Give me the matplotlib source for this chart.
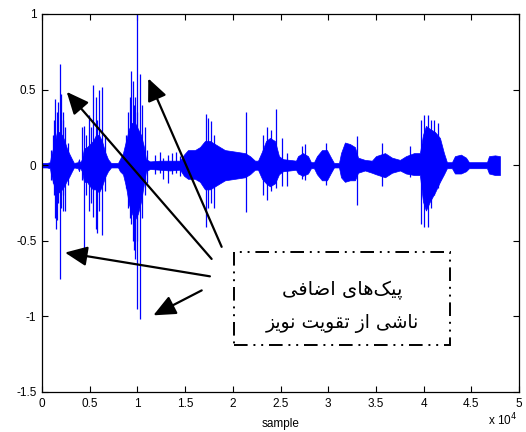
import matplotlib
matplotlib.use("Agg")
import matplotlib.pyplot as plt
from matplotlib.patches import Rectangle

plt.rcParams['font.family'] = ['Liberation Sans', 'DejaVu Sans']
plt.rcParams['axes.unicode_minus'] = False

# Dense core of the waveform (sample index, upper and lower amplitude)
env_x = [0, 520, 840, 940, 1150, 1360, 1570, 1780, 2100, 2310, 2620, 2830, 3140, 3350,
         3770, 3880, 3980, 4190, 4400, 4720, 5030, 5350, 5660, 5970, 6290, 6600, 6920,
         7230, 7970, 8170, 8490, 8800, 9120, 9430, 9750, 10060, 10380, 10690, 10900,
         11320, 12370, 13410, 14460, 14880, 15300, 16030, 16560, 17080, 17610, 18130,
         18650, 19180, 20230, 21270, 21800, 22320, 22640, 23060, 23480, 23890, 24420,
         24840, 25260, 25990, 26620, 26830, 27350, 27880, 28190, 28510, 28820, 29340,
         29870, 30290, 30600, 31130, 31340, 31750, 32280, 32800, 33120, 33850, 34580,
         35000, 35950, 36680, 37520, 38150, 38990, 39610, 39930, 40240, 40660, 41190,
         41710, 42130, 42440, 42970, 43280, 43910, 44440, 44750, 46640, 46850, 47480, 48000]
env_top = [0.015, 0.015, 0.02, 0.06, 0.11, 0.16, 0.22, 0.22, 0.20, 0.17, 0.11, 0.08, 0.04, 0.015,
           0.02, 0.04, 0.015, 0.04, 0.11, 0.12, 0.14, 0.16, 0.20, 0.20, 0.16, 0.09, 0.04,
           0.015, 0.015, 0.04, 0.08, 0.16, 0.24, 0.28, 0.28, 0.24, 0.20, 0.12, 0.04,
           0.025, 0.03, 0.03, 0.03, 0.07, 0.10, 0.10, 0.12, 0.16, 0.16, 0.14,
           0.12, 0.10, 0.09, 0.08, 0.06, 0.03, 0.03, 0.09, 0.16, 0.18, 0.16,
           0.06, 0.04, 0.035, 0.03, 0.06, 0.08, 0.06, 0.02, 0.02, 0.06, 0.10,
           0.10, 0.05, 0.015, 0.015, 0.08, 0.15, 0.14, 0.12, 0.05, 0.035, 0.03,
           0.06, 0.08, 0.05, 0.035, 0.06, 0.08, 0.08, 0.20, 0.26, 0.24, 0.22,
           0.18, 0.08, 0.02, 0.02, 0.06, 0.07, 0.05, 0.02, 0.02, 0.06, 0.065, 0.06]
env_bot = [-0.015, -0.015, -0.02, -0.06, -0.11, -0.16, -0.18, -0.18, -0.16, -0.14, -0.10, -0.08, -0.04, -0.015,
           -0.02, -0.04, -0.015, -0.04, -0.11, -0.11, -0.14, -0.16, -0.16, -0.18, -0.14, -0.08, -0.04,
           -0.015, -0.015, -0.04, -0.06, -0.14, -0.26, -0.32, -0.36, -0.32, -0.24, -0.12, -0.04,
           -0.025, -0.03, -0.035, -0.03, -0.07, -0.09, -0.09, -0.11, -0.16, -0.16, -0.14,
           -0.12, -0.10, -0.09, -0.08, -0.06, -0.03, -0.03, -0.09, -0.12, -0.14, -0.12,
           -0.06, -0.04, -0.035, -0.03, -0.055, -0.07, -0.055, -0.02, -0.02, -0.06, -0.10,
           -0.10, -0.05, -0.015, -0.015, -0.08, -0.11, -0.10, -0.10, -0.05, -0.035, -0.05,
           -0.06, -0.08, -0.05, -0.035, -0.055, -0.065, -0.065, -0.24, -0.30, -0.24, -0.18,
           -0.11, -0.06, -0.02, -0.02, -0.055, -0.055, -0.04, -0.02, -0.02, -0.055, -0.065, -0.065]

# Single peaks standing out of the core
spike_x = [940, 1130, 1260, 1360, 1470, 1570, 1670, 1890, 1990, 2200, 2170, 2410, 2760,
           4230, 4400, 4650, 4920, 5170, 5350, 5660, 5800, 5970, 6240, 6600,
           8800, 9050, 9220, 9380, 9540, 9690, 9750, 9920, 10010, 10270, 10450, 10800, 11040,
           11850, 12370, 12680, 13200, 13620, 14040, 14460,
           17190, 17400, 17710, 18030, 21430, 23200, 23580, 24000, 24520, 25150,
           25680, 27250, 27560, 29760, 32980, 35630, 38570, 39720, 40090, 40450,
           40800, 41100, 41500]
spike_top = [0.10, 0.20, 0.30, 0.44, 0.10, 0.35, 0.42, 0.67, 0.47, 0.35, 0.30, 0.25, 0.15,
             0.25, 0.26, 0.20, 0.33, 0.25, 0.53, 0.45, 0.30, 0.50, 0.52, 0.20,
             0.20, 0.35, 0.45, 0.62, 0.56, 0.40, 0.45, 0.35, 1.00, 0.60, 0.40, 0.25, 0.10,
             0.07, 0.09, 0.05, 0.07, 0.08, 0.09, 0.06,
             0.34, 0.31, 0.29, 0.20, 0.35, 0.20, 0.25, 0.23, 0.37, 0.18,
             0.08, 0.13, 0.14, 0.15, 0.19, 0.15, 0.13, 0.30, 0.33, 0.33,
             0.30, 0.30, 0.28]
spike_bot = [-0.10, -0.12, -0.20, -0.35, -0.42, -0.36, -0.25, -0.75, -0.28, -0.30, -0.20, -0.30, -0.13,
             -0.10, -0.57, -0.20, -0.30, -0.25, -0.34, -0.42, -0.45, -0.30, -0.46, -0.17,
             -0.15, -0.28, -0.35, -0.39, -0.50, -0.56, -0.62, -0.50, -0.95, -1.02, -0.35, -0.20, -0.12,
             -0.06, -0.05, -0.09, -0.12, -0.06, -0.05, -0.07,
             -0.41, -0.28, -0.25, -0.28, -0.31, -0.20, -0.23, -0.17, -0.15, -0.14,
             -0.14, -0.09, -0.10, -0.13, -0.26, -0.14, -0.08, -0.39, -0.41, -0.41,
             -0.28, -0.20, -0.15]

xtick_pos = [0, 5000, 10000, 15000, 20000, 25000, 30000, 35000, 40000, 45000, 50000]
xtick_lab = ['0', '0.5', '1', '1.5', '2', '2.5', '3', '3.5', '4', '4.5', '5']
ytick_pos = [-1.5, -1, -0.5, 0, 0.5, 1]
ytick_lab = ['-1.5', '-1', '-0.5', '0', '0.5', '1']

note_lines = ['پیک\u200cهای اضافی', 'ناشی از تقویت نویز']

# arrows: (tip x, tip y, tail x, tail y)
arrows = [(2590, 0.485, 17780, -0.62),
          (11140, 0.574, 18830, -0.54),
          (2410, -0.578, 17600, -0.735),
          (11670, -0.993, 16740, -0.828)]


# matplotlib does no Arabic shaping, so pick the joined glyph forms by hand
FORMS = {
    'ا': ('\uFE8D', '\uFE8E', None, None),
    'پ': ('\uFB56', '\uFB57', '\uFB58', '\uFB59'),
    'ی': ('\uFBFC', '\uFBFD', '\uFBFE', '\uFBFF'),
    'ک': ('\uFB8E', '\uFB8F', '\uFB90', '\uFB91'),
    'ه': ('\uFEE9', '\uFEEA', '\uFEEB', '\uFEEC'),
    'ض': ('\uFEBD', '\uFEBE', '\uFEBF', '\uFEC0'),
    'ف': ('\uFED1', '\uFED2', '\uFED3', '\uFED4'),
    'ن': ('\uFEE5', '\uFEE6', '\uFEE7', '\uFEE8'),
    'ش': ('\uFEB5', '\uFEB6', '\uFEB7', '\uFEB8'),
    'ز': ('\uFEAF', '\uFEB0', None, None),
    'ت': ('\uFE95', '\uFE96', '\uFE97', '\uFE98'),
    'ق': ('\uFED5', '\uFED6', '\uFED7', '\uFED8'),
    'و': ('\uFEED', '\uFEEE', None, None),
}


def shape(text):
    out = []
    for i, ch in enumerate(text):
        if ch not in FORMS:
            if ch != '\u200c':
                out.append(ch)
            continue
        prev = text[i - 1] if i > 0 else ''
        nxt = text[i + 1] if i + 1 < len(text) else ''
        dual = FORMS[ch][2] is not None
        join_prev = prev in FORMS and FORMS[prev][2] is not None
        join_next = dual and nxt in FORMS
        if join_prev and join_next:
            out.append(FORMS[ch][3])
        elif join_prev:
            out.append(FORMS[ch][1])
        elif join_next:
            out.append(FORMS[ch][2])
        else:
            out.append(FORMS[ch][0])
    return ''.join(out[::-1])


fig = plt.figure(figsize=(5.26, 4.32), dpi=100)
ax = fig.add_axes([0.0798, 0.0926, 0.907, 0.875])

ax.fill_between(env_x, env_bot, env_top, color='#0000ff', lw=0.5)
ax.vlines(spike_x, spike_bot, spike_top, color='#0000ff', lw=0.9)

ax.set_xlim(0, 50000)
ax.set_ylim(-1.5, 1)
ax.set_xticks(xtick_pos)
ax.set_xticklabels(xtick_lab)
ax.set_yticks(ytick_pos)
ax.set_yticklabels(ytick_lab)
ax.tick_params(direction='in', top=True, right=True, length=4, width=0.8, labelsize=8.5, pad=4)
for sp in ax.spines.values():
    sp.set_linewidth(0.9)
ax.set_xlabel('sample', fontsize=8.5, labelpad=6)
fig.text(0.928, 0.008, r'x 10$^{4}$', fontsize=8.5, va='bottom')

for tx, ty, sx, sy in arrows:
    ax.annotate('', xy=(tx, ty), xytext=(sx, sy),
                arrowprops=dict(arrowstyle='-|>,head_length=0.9,head_width=0.4',
                                mutation_scale=15, lw=1.6, color='black',
                                shrinkA=0, shrinkB=0))

box = Rectangle((20120, -1.192), 22640, 0.618, fill=False, ec='black', lw=1.4,
                ls=(0, (7, 3, 1, 3, 1, 3)))
ax.add_patch(box)
ax.text(31440, -0.828, shape(note_lines[0]), ha='center', va='center',
        fontsize=14, family=['DejaVu Sans'])
ax.text(31440, -1.046, shape(note_lines[1]), ha='center', va='center',
        fontsize=13.5, family=['DejaVu Sans'])

plt.savefig('out.png', dpi=100)
